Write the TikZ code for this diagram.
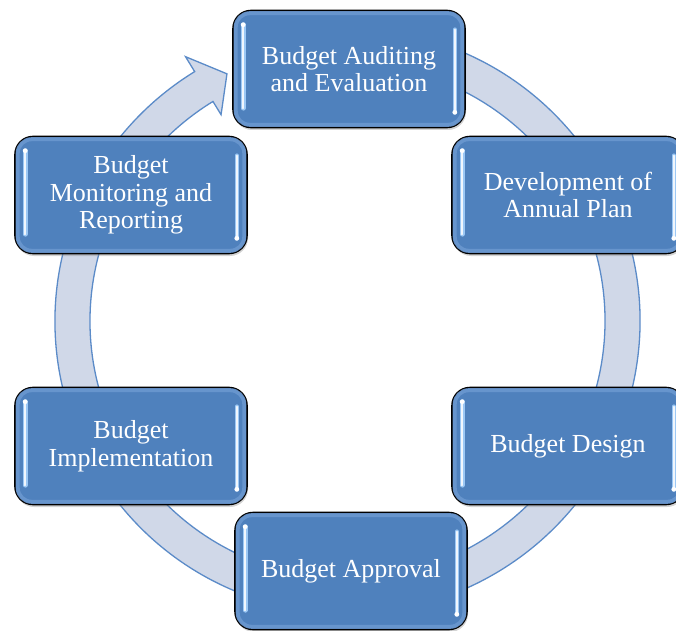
\documentclass[tikz,border=0pt]{standalone}
\usepackage{fontspec}
\setmainfont{Liberation Serif}
\usetikzlibrary{calc,shadows}
\definecolor{boxblue}{HTML}{4F81BD}
\definecolor{ringfill}{HTML}{D0D8E8}
\definecolor{ringline}{HTML}{5B8BC8}
\definecolor{bevelblue}{HTML}{6E9AD2}
\definecolor{glossblue}{HTML}{9CC8F5}

\begin{document}
\begin{tikzpicture}[x=1pt,y=1pt,
	stage/.style={draw=black,line width=1.6pt,fill=boxblue,rounded corners=18pt,
		minimum width=232pt,minimum height=117pt,align=center,text=white,
		font=\fontsize{26}{27.5}\selectfont,
		drop shadow={shadow xshift=1pt,shadow yshift=-2.5pt,opacity=0.35}},
	bevel/.style={draw=bevelblue,line width=4pt,rounded corners=14pt,opacity=0.8},
	gloss/.style={draw=glossblue,line width=4.6pt,line cap=round},
	glosscore/.style={draw=white,line width=1.8pt,line cap=round,opacity=0.85},
	ring/.style={fill=ringfill,draw=ringline,line width=1.3pt}]
					\useasboundingbox (0,0) rectangle (676,630);
					%RING ARROW
					\coordinate (C) at (347.5,309);
					\draw[ring] ($(C)+(75:292.5)$) arc[start angle=75,end angle=-238.5,radius=292.5]
						-- ($(C)+(121.5:310)$) -- ($(C)+(116:275)$) -- ($(C)+(121.5:242)$)
						-- ($(C)+(121.5:257.5)$) arc[start angle=-238.5,end angle=75,radius=257.5] -- cycle;
					%STAGES
					\node[stage] (audit) at (349,561) {Budget Auditing\\and Evaluation};
					\node[stage] (plan) at (568,435) {Development of\\Annual Plan};
					\node[stage] (design) at (568,184) {Budget Design};
					\node[stage] (approval) at (351,59) {Budget Approval};
					\node[stage] (implement) at (131,184) {Budget\\Implementation};
					\node[stage] (monitor) at (131,435) {Budget\\Monitoring and\\Reporting};
					%GLOSS
					\foreach \n in {audit,plan,design,approval,implement,monitor}{
						\draw[bevel] ($(\n.south west)+(3.5,3.5)$) rectangle ($(\n.north east)+(-3.5,-3.5)$);
						\draw[gloss] ($(\n.north west)+(11,-15)$) -- ($(\n.south west)+(11,20)$);
						\draw[glosscore] ($(\n.north west)+(11,-15)$) -- ($(\n.south west)+(11,20)$);
						\draw[gloss] ($(\n.north east)+(-11,-20)$) -- ($(\n.south east)+(-11,16)$);
						\draw[glosscore] ($(\n.north east)+(-11,-20)$) -- ($(\n.south east)+(-11,16)$);
						\fill[white] ($(\n.north west)+(11,-15)$) circle (2.4);
						\fill[white] ($(\n.south east)+(-11,16)$) circle (2.4);
					}
\end{tikzpicture}
\end{document}
